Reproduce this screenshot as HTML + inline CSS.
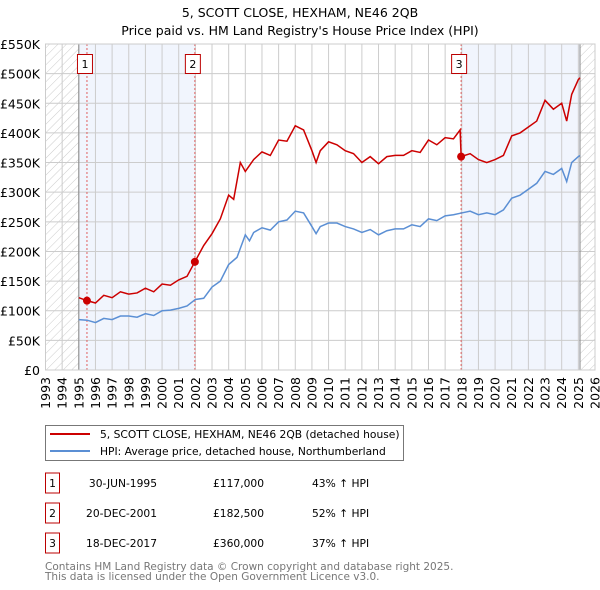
<!DOCTYPE html>
<html><head><meta charset="utf-8"><style>
body{margin:0;background:#fff;}
svg{display:block;font-family:"DejaVu Sans","Liberation Sans",sans-serif;}
</style></head><body>
<svg id="c" width="600" height="590" viewBox="0 0 600 590">
<defs>
<pattern id="hatch" width="6" height="6" patternUnits="userSpaceOnUse" patternTransform="rotate(45)">
<line x1="0" y1="0" x2="0" y2="6" stroke="#ccc" stroke-width="1"/></pattern>
</defs>
<text x="300" y="17" text-anchor="middle" font-size="12.5" fill="#000">5, SCOTT CLOSE, HEXHAM, NE46 2QB</text>
<text x="300" y="35" text-anchor="middle" font-size="12.5" fill="#000">Price paid vs. HM Land Registry's House Price Index (HPI)</text>
<g id="plot"></g>
<g>
<rect x="45.5" y="425.5" width="358" height="35" fill="#fff" stroke="#777"/>
<line x1="50" y1="434" x2="90" y2="434" stroke="#cc0000" stroke-width="2"/>
<text x="100" y="438" font-size="10.7">5, SCOTT CLOSE, HEXHAM, NE46 2QB (detached house)</text>
<line x1="50" y1="451" x2="90" y2="451" stroke="#5b8fd4" stroke-width="2"/>
<text x="100" y="455" font-size="10.7">HPI: Average price, detached house, Northumberland</text>
</g>
<g id="table" font-size="10.7"></g>
<text x="45" y="570" font-size="10.5" fill="#777">Contains HM Land Registry data © Crown copyright and database right 2025.</text>
<text x="45" y="580" font-size="10.5" fill="#777">This data is licensed under the Open Government Licence v3.0.</text>
</svg>
<script>
const hpiT=[1995.0,1995.5,1996,1996.5,1997,1997.5,1998,1998.5,1999,1999.5,2000,2000.5,2001,2001.5,2002,2002.5,2003,2003.5,2004,2004.5,2005,2005.25,2005.5,2006,2006.5,2007,2007.5,2008,2008.5,2009,2009.25,2009.5,2010,2010.5,2011,2011.5,2012,2012.5,2013,2013.5,2014,2014.5,2015,2015.5,2016,2016.5,2017,2017.5,2018,2018.5,2019,2019.5,2020,2020.5,2021,2021.5,2022,2022.5,2023,2023.5,2024,2024.3,2024.6,2025,2025.1];
const hpiV=[85,84,80,87,85,91,91,89,95,92,100,101,104,108,119,121,140,150,178,190,228,218,232,240,236,250,253,268,265,242,230,242,248,248,242,238,232,237,228,235,238,238,245,242,255,252,260,262,265,268,262,265,262,270,290,295,305,315,335,330,340,318,350,360,362];
const propT=[1995.0,1995.5,1996,1996.5,1997,1997.5,1998,1998.5,1999,1999.5,2000,2000.5,2001,2001.5,2001.97,2002.5,2003,2003.5,2004,2004.3,2004.7,2005,2005.5,2006,2006.5,2007,2007.5,2008,2008.5,2009,2009.25,2009.5,2010,2010.5,2011,2011.5,2012,2012.5,2013,2013.5,2014,2014.5,2015,2015.5,2016,2016.5,2017,2017.5,2017.9,2017.96,2018.5,2019,2019.5,2020,2020.5,2021,2021.5,2022,2022.5,2023,2023.5,2024,2024.3,2024.6,2025,2025.1];
const propV=[122,117,113,126,122,132,128,130,138,132,145,143,152,158,182.5,210,230,255,295,288,350,335,355,368,362,388,386,412,405,370,350,370,385,380,370,365,350,360,348,360,362,362,370,367,388,380,392,390,405,360,365,355,350,355,362,395,400,410,420,455,440,450,420,465,490,493];
const saleT=[1995.49,2001.97,2017.96];
const saleV=[117,182.5,360];
const saleLabels=["1","2","3"];
const saleDates=["30-JUN-1995","20-DEC-2001","18-DEC-2017"];
const salePrices=["£117,000","£182,500","£360,000"];
const salePct=["43% ↑ HPI","52% ↑ HPI","37% ↑ HPI"];
const yTicks=[0,50,100,150,200,250,300,350,400,450,500,550];
const yTickLabels=["£0","£50K","£100K","£150K","£200K","£250K","£300K","£350K","£400K","£450K","£500K","£550K"];
const xYears=[1993,1994,1995,1996,1997,1998,1999,2000,2001,2002,2003,2004,2005,2006,2007,2008,2009,2010,2011,2012,2013,2014,2015,2016,2017,2018,2019,2020,2021,2022,2023,2024,2025,2026];
const dataStart=1995.0, dataEnd=2025.1;

const NS="http://www.w3.org/2000/svg";
const X0=45.5,X1=595,Y0=370,Y1=44;
const x=t=>X0+(t-1993)/(2026-1993)*(X1-X0);
const y=v=>Y0-v/550*(Y0-Y1);
const g=document.getElementById('plot');
function mk(tag,a,p){const e=document.createElementNS(NS,tag);for(const k in a)e.setAttribute(k,a[k]);(p||g).appendChild(e);return e;}
let e;
e=mk('rect',{x:x(dataStart),y:Y1,width:x(saleT[1])-x(dataStart),height:Y0-Y1,fill:'#eef3fc',opacity:0.8});


e=mk('rect',{x:x(saleT[2]),y:Y1,width:x(dataEnd)-x(saleT[2]),height:Y0-Y1,fill:'#eef3fc',opacity:0.8});


yTicks.forEach((v,i)=>{
 e=mk('line',{x1:X0,x2:X1,y1:y(v),y2:y(v),stroke:'#ccc'});
 
 
 e=mk('text',{x:40,y:y(v)+5,'text-anchor':'end','font-size':12.5});e.textContent=yTickLabels[i];
 
 
});
xYears.forEach(yr=>{
 e=mk('line',{x1:x(yr),x2:x(yr),y1:Y1,y2:Y0,stroke:'#ccc'});
 
 
 e=mk('text',{x:0,y:0,'text-anchor':'end','font-size':12.5,transform:`translate(${x(yr)+4.5},${Y0+7}) rotate(-90)`});e.textContent=yr;
 
 
});
e=mk('rect',{x:X0,y:Y1,width:x(dataStart)-X0,height:Y0-Y1,fill:'url(#hatch)'});


e=mk('rect',{x:x(dataEnd),y:Y1,width:X1-x(dataEnd),height:Y0-Y1,fill:'url(#hatch)'});


mk('line',{x1:x(dataStart),x2:x(dataStart),y1:Y1,y2:Y0,stroke:'#888'});
mk('line',{x1:x(dataEnd),x2:x(dataEnd),y1:Y1,y2:Y0,stroke:'#888'});
saleT.forEach((t,i)=>{
 e=mk('line',{x1:x(t),x2:x(t),y1:Y1,y2:Y0,stroke:'#e06060','stroke-dasharray':'2,2'});
 
 
 e=mk('rect',{x:x(t)-9.5,y:54.5,width:15,height:19,fill:'#fff',stroke:'#b00'});
 
 
 e=mk('text',{x:x(t)-2,y:68,'text-anchor':'middle','font-size':11});e.textContent=saleLabels[i];
 
 
});
e=mk('polyline',{points:hpiT.map((t,i)=>x(t)+','+y(hpiV[i])).join(' '),fill:'none',stroke:'#5b8fd4','stroke-width':1.5});


e=mk('polyline',{points:propT.map((t,i)=>x(t)+','+y(propV[i])).join(' '),fill:'none',stroke:'#cc0000','stroke-width':1.5});


saleT.forEach((t,i)=>{
 e=mk('circle',{cx:x(t),cy:y(saleV[i]),r:4,fill:'#cc0000'});
 
 
});
mk('rect',{x:X0,y:Y1,width:X1-X0,height:Y0-Y1,fill:'none',stroke:'#ccc'});
const tb=document.getElementById('table');
saleLabels.forEach((l,i)=>{
 const cy=483+i*30;
 e=mk('rect',{x:45.5,y:cy-10,width:14,height:20,fill:'#fff',stroke:'#b00'},tb);
 
 
 e=mk('text',{x:52.5,y:cy+4,'text-anchor':'middle'},tb);e.textContent=l;
 
 
 e=mk('text',{x:157,y:cy+4,'text-anchor':'end'},tb);e.textContent=saleDates[i];
 
 
 e=mk('text',{x:264,y:cy+4,'text-anchor':'end'},tb);e.textContent=salePrices[i];
 
 
 e=mk('text',{x:312,y:cy+4},tb);e.textContent=salePct[i];
 
 
});
</script>
</body></html>
